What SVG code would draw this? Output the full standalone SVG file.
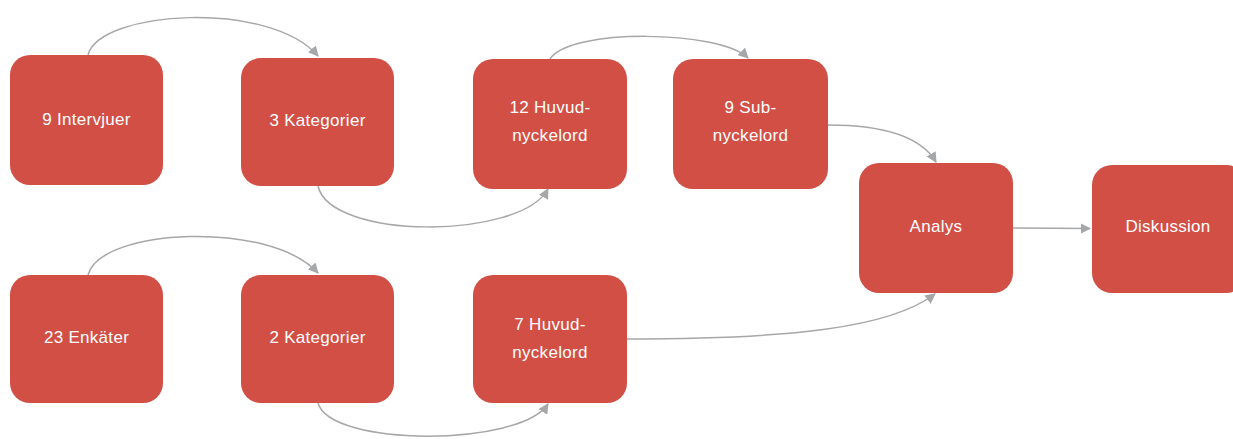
<svg xmlns="http://www.w3.org/2000/svg" width="1233" height="439" viewBox="0 0 1233 439">
<style>
.box{fill:#D24F45;}
.t{font-family:"Liberation Sans",Arial,sans-serif;font-size:17px;fill:#FFFFFF;text-anchor:middle;letter-spacing:0.3px;}
.c{fill:none;stroke:#A5A7A9;stroke-width:1.5;marker-end:url(#ah);}
</style>
<defs>
<marker id="ah" viewBox="0 0 10 10" refX="9" refY="5" markerWidth="7" markerHeight="7" markerUnits="strokeWidth" orient="auto">
<path d="M0,0 L10,5 L0,10 Z" fill="#A5A7A9"/>
</marker>
</defs>
<rect width="1233" height="439" fill="#FFFFFF"/>
<g id="connectors">
<path class="c" d="M88,55 C100,10 270,0 318,56"/>
<path class="c" d="M318,186 C330,240 520,240 548,189"/>
<path class="c" d="M550,59 C570,28 720,30 748,58"/>
<path class="c" d="M828,125 C880,125 920,135 936,162"/>
<path class="c" d="M1013,228 L1090,228.5"/>
<path class="c" d="M88,275 C100,228 270,220 318,273"/>
<path class="c" d="M318,403 C330,447 520,447 548,404"/>
<path class="c" d="M627,339 C790,339 890,328 935,294"/>
</g>
<g id="n1"><rect class="box" x="10" y="55" width="153" height="130" rx="20"/><text class="t" x="86.5" y="125">9 Intervjuer</text></g>
<g id="n2"><rect class="box" x="241" y="58" width="153" height="128" rx="20"/><text class="t" x="317.5" y="126">3 Kategorier</text></g>
<g id="n3"><rect class="box" x="473" y="59" width="154" height="130" rx="20"/><text class="t" x="550" y="113">12 Huvud-</text><text class="t" x="550" y="141">nyckelord</text></g>
<g id="n4"><rect class="box" x="673" y="59" width="155" height="130" rx="20"/><text class="t" x="750.5" y="113">9 Sub-</text><text class="t" x="750.5" y="141">nyckelord</text></g>
<g id="n5"><rect class="box" x="859" y="163" width="154" height="130" rx="20"/><text class="t" x="936" y="232">Analys</text></g>
<g id="n6"><rect class="box" x="1092" y="165" width="154" height="128" rx="20"/><text class="t" x="1168" y="232">Diskussion</text></g>
<g id="n7"><rect class="box" x="10" y="275" width="153" height="128" rx="20"/><text class="t" x="86.5" y="343">23 Enkäter</text></g>
<g id="n8"><rect class="box" x="241" y="275" width="153" height="128" rx="20"/><text class="t" x="317.5" y="343">2 Kategorier</text></g>
<g id="n9"><rect class="box" x="473" y="275" width="154" height="128" rx="20"/><text class="t" x="550" y="330">7 Huvud-</text><text class="t" x="550" y="358">nyckelord</text></g>
</svg>
